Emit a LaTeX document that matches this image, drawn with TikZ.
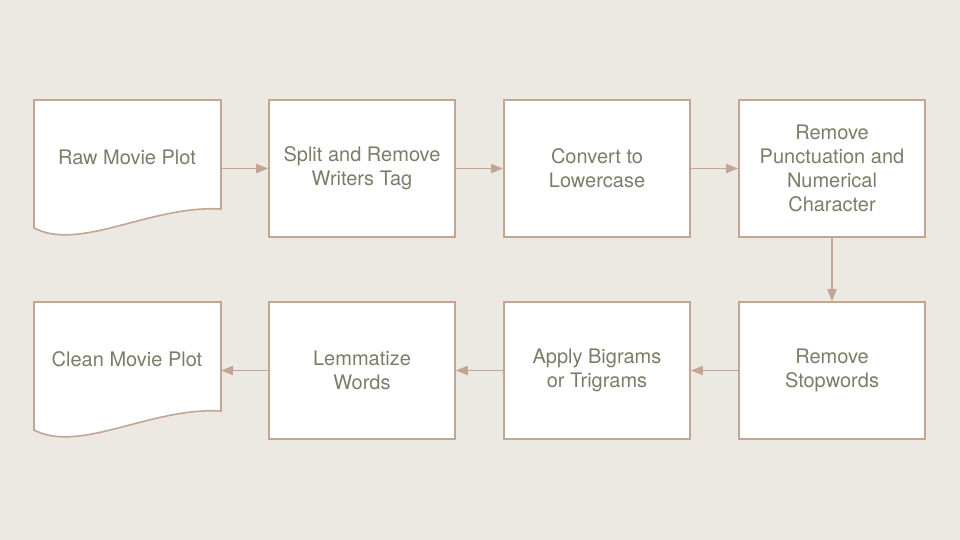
\documentclass[tikz,border=0pt]{standalone}
\usepackage{fontspec}
\setmainfont{TeX Gyre Heros}
\usepackage{tikz}
\usetikzlibrary{arrows.meta}

\definecolor{bgpaper}{HTML}{EBE9E2}
\definecolor{edgetan}{HTML}{C2A592}
\definecolor{textsage}{HTML}{7A7E68}

\begin{document}
\begin{tikzpicture}[x=1pt,y=-1pt,
    stepbox/.style={draw=edgetan,line width=1.6pt,fill=white,
        minimum width=186pt,minimum height=137pt,inner sep=0pt,
        text=textsage,align=center,font=\fontsize{20}{24}\selectfont},
    doctext/.style={text=textsage,align=center,font=\fontsize{20}{24}\selectfont},
    flow/.style={draw=edgetan,line width=1.6pt,-{Triangle[length=12pt,width=9pt]}}
]
% Background
\fill[bgpaper] (0,0) rectangle (960,540);
\useasboundingbox (0,0) rectangle (960,540);
% Documents
\coordinate (RawOut) at (221,168.5);
\draw[draw=edgetan,line width=1.6pt,fill=white,line join=miter]
    (34,100) -- (221,100) -- (221,209) .. controls (150,205) and (80,252) .. (34,228) -- cycle;
\draw (127,157) node[doctext] (Raw){Raw Movie Plot};
\coordinate (CleanIn) at (221,370.5);
\draw[draw=edgetan,line width=1.6pt,fill=white,line join=miter]
    (34,302) -- (221,302) -- (221,411) .. controls (150,407) and (80,454) .. (34,430) -- cycle;
\draw (127,359) node[doctext] (Clean){Clean Movie Plot};
% Steps, first row
\draw (362,168.5) node[stepbox] (Split){Split and Remove\\Writers Tag};
\draw (597,168.5) node[stepbox] (Lower){Convert to\\Lowercase};
\draw (832,168.5) node[stepbox] (Punct){Remove\\Punctuation and\\Numerical\\Character};
% Steps, second row
\draw (832,370.5) node[stepbox] (Stop){Remove\\Stopwords};
\draw (597,370.5) node[stepbox] (Gram){Apply Bigrams\\or Trigrams};
\draw (362,370.5) node[stepbox] (Lemma){Lemmatize\\Words};
% Connections
\draw[flow] (RawOut) -- (Split.west);
\draw[flow] (Split) -- (Lower);
\draw[flow] (Lower) -- (Punct);
\draw[flow] (Punct) -- (Stop);
\draw[flow] (Stop) -- (Gram);
\draw[flow] (Gram) -- (Lemma);
\draw[flow] (Lemma.west) -- (CleanIn);
\end{tikzpicture}
\end{document}
